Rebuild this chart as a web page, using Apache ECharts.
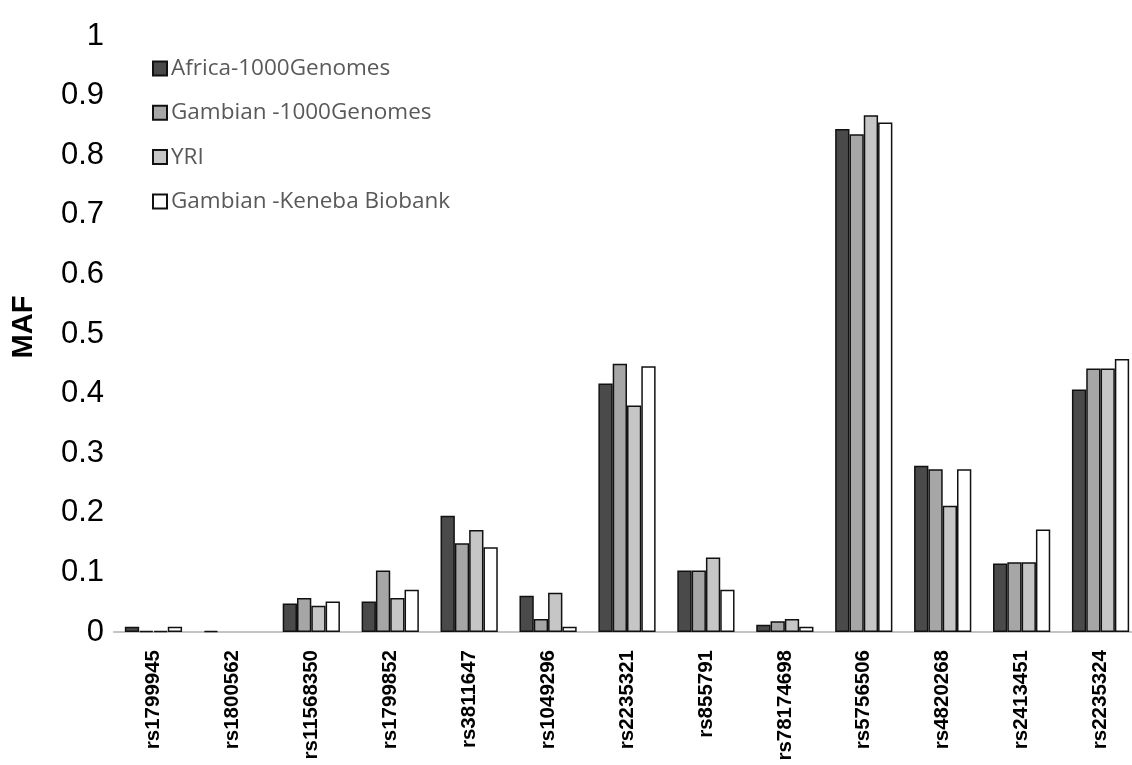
<!DOCTYPE html>
<html>
<head>
<meta charset="utf-8">
<script src="https://cdn.jsdelivr.net/npm/echarts@6/dist/echarts.min.js"></script>
<style>
html,body{margin:0;padding:0;background:#fff;}
#chart{width:1132px;height:765px;}
</style>
</head>
<body>
<div id="chart"></div>
<script>
var categories = ['rs1799945','rs1800562','rs11568350','rs1799852','rs3811647','rs1049296','rs2235321','rs855791','rs78174698','rs5756506','rs4820268','rs2413451','rs2235324'];
var seriesNames = ['Africa-1000Genomes','Gambian -1000Genomes','YRI','Gambian -Keneba Biobank'];
var africa1000G = [0.009, 0.002, 0.048, 0.051, 0.195, 0.061, 0.417, 0.103, 0.012, 0.844, 0.279, 0.115, 0.407];
var gambian1000G = [0.002, 0, 0.057, 0.103, 0.149, 0.022, 0.450, 0.103, 0.018, 0.835, 0.273, 0.117, 0.442];
var yri = [0.002, 0, 0.044, 0.057, 0.171, 0.066, 0.380, 0.125, 0.022, 0.867, 0.212, 0.117, 0.442];
var gambianKeneba = [0.009, 0, 0.051, 0.071, 0.142, 0.009, 0.446, 0.071, 0.009, 0.855, 0.273, 0.172, 0.458];
var yTicks = [0, 0.1, 0.2, 0.3, 0.4, 0.5, 0.6, 0.7, 0.8, 0.9, 1];

var colors = ['#4a4a4a', '#a6a6a6', '#c6c6c6', '#ffffff'];
var values = [africa1000G, gambian1000G, yri, gambianKeneba];

var chart = echarts.init(document.getElementById('chart'), null, {renderer: 'canvas'});
var series = values.map(function (v, i) {
  return {
    name: seriesNames[i],
    type: 'bar',
    data: v.map(function (d) {
      return d === 0 ? {value: d, itemStyle: {borderWidth: 0}} : d;
    }),
    barGap: 0,
    barCategoryGap: '27.5%',
    itemStyle: {color: colors[i], borderColor: '#111', borderWidth: 1.5},
    emphasis: {disabled: true}
  };
});
chart.setOption({
  animation: false,
  backgroundColor: '#fff',
  grid: {left: 114, width: 1026, top: 36, height: 596, outerBoundsMode: 'none', containLabel: false},
  legend: {
    orient: 'vertical',
    left: 147,
    top: 52,
    itemWidth: 14,
    itemHeight: 14,
    itemGap: 21.3,
    icon: 'rect',
    textStyle: {fontFamily: 'Open Sans', fontSize: 22.5, color: '#595959', padding: [0, 0, 0, -1]},
    data: seriesNames
  },
  xAxis: {
    type: 'category',
    data: categories,
    axisLine: {lineStyle: {color: '#c4c4c4', width: 2}},
    axisTick: {show: false},
    axisLabel: {
      rotate: 90,
      margin: 18,
      interval: 0,
      fontFamily: 'Liberation Sans',
      fontWeight: 'bold',
      fontSize: 20.5,
      color: '#000'
    }
  },
  yAxis: {
    type: 'value',
    min: 0,
    max: 1,
    interval: 0.1,
    name: 'MAF',
    nameLocation: 'middle',
    nameGap: 76,
    nameRotate: 90,
    nameTextStyle: {fontFamily: 'Liberation Sans', fontWeight: 'bold', fontSize: 29, color: '#000', padding: [0, 0, 0, 14]},
    axisLine: {show: false},
    axisTick: {show: false},
    splitLine: {show: false},
    axisLabel: {
      margin: 10,
      fontFamily: 'Liberation Sans',
      fontSize: 31,
      color: '#000',
      padding: [0, 0, 8, 0],
      formatter: function (v) {
        var t = yTicks.filter(function (x) { return Math.abs(x - v) < 1e-9; });
        return t.length ? String(t[0]) : String(Math.round(v * 10) / 10);
      }
    }
  },
  series: series
});
</script>
</body>
</html>
